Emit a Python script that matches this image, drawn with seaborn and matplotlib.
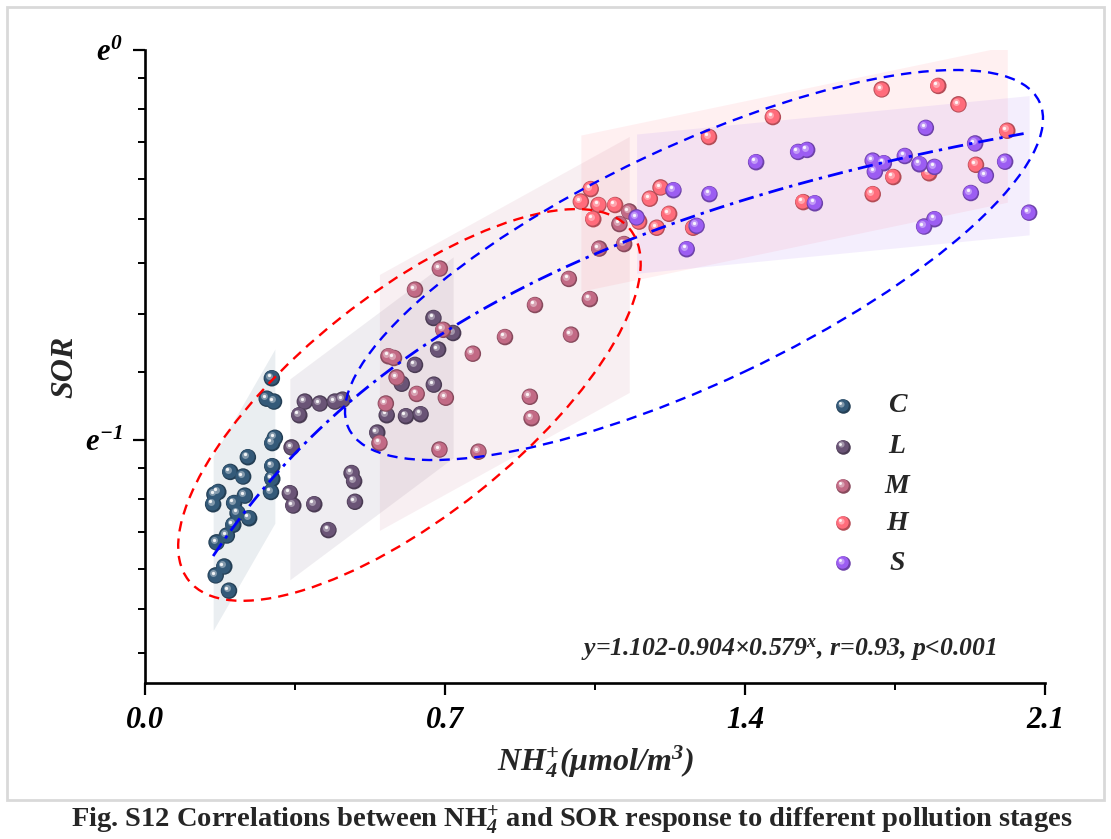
import numpy as np
import pandas as pd
import seaborn as sns
import matplotlib
matplotlib.use("Agg")
import matplotlib.pyplot as plt
from matplotlib.patches import Ellipse, Rectangle
from matplotlib.transforms import ScaledTranslation, offset_copy
from matplotlib.ticker import FixedLocator, FixedFormatter, NullFormatter
from matplotlib.colors import to_rgb

# ---------------- data (NH4+ in umol/m3, SOR) ----------------
C_x = [0.296, 0.284, 0.301, 0.303, 0.297, 0.240, 0.199, 0.229, 0.297, 0.297, 0.294, 0.171,
       0.162, 0.159, 0.233, 0.208, 0.216, 0.243, 0.206, 0.191, 0.167, 0.185, 0.165, 0.196]
C_sor = [0.431, 0.409, 0.406, 0.370, 0.365, 0.352, 0.339, 0.335, 0.344, 0.333, 0.322, 0.322,
         0.320, 0.312, 0.319, 0.313, 0.305, 0.301, 0.296, 0.288, 0.283, 0.266, 0.260, 0.250]

L_x = [0.673, 0.719, 0.684, 0.630, 0.599, 0.674, 0.564, 0.609, 0.643, 0.373, 0.408, 0.443,
       0.461, 0.360, 0.542, 0.342, 0.482, 0.488, 0.338, 0.346, 0.395, 0.490, 0.428]
L_sor = [0.503, 0.484, 0.464, 0.446, 0.425, 0.424, 0.392, 0.391, 0.393, 0.406, 0.404, 0.406,
         0.408, 0.392, 0.375, 0.361, 0.338, 0.331, 0.321, 0.311, 0.312, 0.314, 0.292]

M_x = [0.688, 0.630, 0.696, 0.568, 0.581, 0.587, 0.634, 0.702, 0.562, 0.547, 0.687, 0.778,
       0.765, 0.840, 0.910, 0.989, 0.994, 1.038, 0.898, 0.902, 1.060, 1.118, 1.107, 1.130]
M_sor = [0.571, 0.541, 0.488, 0.456, 0.454, 0.432, 0.414, 0.410, 0.404, 0.365, 0.359, 0.357,
         0.459, 0.479, 0.520, 0.556, 0.482, 0.528, 0.411, 0.389, 0.601, 0.608, 0.640, 0.661]

H_x = [1.040, 1.017, 1.058, 1.046, 1.097, 1.153, 1.203, 1.178, 1.223, 1.194, 1.279, 1.316,
       1.465, 1.536, 1.719, 1.851, 1.898, 2.012, 1.746, 1.698, 1.830, 1.939]
H_sor = [0.700, 0.678, 0.672, 0.648, 0.672, 0.644, 0.703, 0.683, 0.657, 0.634, 0.634, 0.800,
         0.842, 0.677, 0.904, 0.912, 0.870, 0.813, 0.722, 0.691, 0.729, 0.745]

S_x = [1.233, 1.317, 1.147, 1.287, 1.264, 1.426, 1.524, 1.545, 1.822, 1.698, 1.703, 1.724,
       1.773, 1.807, 1.842, 1.937, 2.007, 1.962, 1.927, 1.563, 1.842, 1.818, 2.063]
S_sor = [0.698, 0.691, 0.651, 0.637, 0.600, 0.750, 0.770, 0.774, 0.819, 0.753, 0.732, 0.748,
         0.762, 0.746, 0.741, 0.787, 0.751, 0.725, 0.693, 0.675, 0.648, 0.636, 0.659]

stages = ["C", "L", "M", "H", "S"]
xticks = [0.0, 0.7, 1.4, 2.1]
xtick_labels = ["0.0", "0.7", "1.4", "2.1"]

# fitted curve y = a - b * c**x
fit_a, fit_b, fit_c = 1.102, 0.904, 0.579
eq_text = "y=1.102-0.904\u00d70.579$^{x}$, r=0.93, p<0.001"
caption = "Fig. S12 Correlations between NH$_{\\mathrm{4}}^{\\mathrm{+}}$ and SOR response to different pollution stages"

# ---------------- styles ----------------
colors = {"C": "#345a79", "L": "#6a5476", "M": "#c26a85", "H": "#ff6c7b", "S": "#9c5df2"}
band_k = 2.3            # band half width in residual std units
ell_red = dict(x=0.617, y=0.4025, w=5.64, h=2.22, angle=38.5)   # widths in inches
ell_blue = dict(x=1.281, y=0.5762, w=7.64, h=2.36, angle=25.3)

sns.set_theme(style="ticks")
plt.rcParams.update({
    "font.family": ["Liberation Serif", "DejaVu Serif"],
    "font.weight": "bold",
    "font.style": "italic",
    "axes.labelweight": "bold",
    "mathtext.fontset": "custom",
    "mathtext.it": "Liberation Serif:italic:bold",
    "mathtext.rm": "Liberation Serif:bold",
    "mathtext.bf": "Liberation Serif:bold",
    "mathtext.default": "it",
    "axes.linewidth": 1.9,
    "xtick.major.width": 1.6, "ytick.major.width": 1.6,
    "xtick.minor.width": 1.4, "ytick.minor.width": 1.4,
    "xtick.major.size": 8.5, "ytick.major.size": 8.5,
    "xtick.minor.size": 5, "ytick.minor.size": 5,
    "xtick.color": "black", "ytick.color": "black",
    "axes.edgecolor": "black",
})

df = pd.concat([
    pd.DataFrame({"x": C_x, "SOR": C_sor, "stage": "C"}),
    pd.DataFrame({"x": L_x, "SOR": L_sor, "stage": "L"}),
    pd.DataFrame({"x": M_x, "SOR": M_sor, "stage": "M"}),
    pd.DataFrame({"x": H_x, "SOR": H_sor, "stage": "H"}),
    pd.DataFrame({"x": S_x, "SOR": S_sor, "stage": "S"}),
], ignore_index=True)

fig = plt.figure(figsize=(11.11, 8.39), dpi=100)
ax = fig.add_axes([145 / 1111, 1 - 683 / 839, 900 / 1111, 633 / 839])
ax.set_yscale("log", base=np.e)


def mix(c, other, f):
    c = np.array(to_rgb(c)); o = np.array(to_rgb(other))
    return tuple(c * (1 - f) + o * f)


def dpx(d):
    return (d * 0.72) ** 2


def spheres(x, y, color, d, z, base_tr, use_sns=False, data=None):
    if use_sns:
        sns.scatterplot(data=data, x="x", y="SOR", color=mix(color, "black", 0.3), s=dpx(d),
                        edgecolor="none", linewidth=0, legend=False, ax=ax, zorder=z)
    else:
        ax.scatter(x, y, color=mix(color, "black", 0.3), s=dpx(d), lw=0, zorder=z, transform=base_tr)
    ax.scatter(x, y, color=color, s=dpx(d * 0.86), lw=0, zorder=z + 0.1,
               transform=offset_copy(base_tr, fig=fig, x=-0.8, y=0.8, units="dots"))
    ax.scatter(x, y, color=mix(color, "white", 0.45), s=dpx(d * 0.42), lw=0, zorder=z + 0.2,
               alpha=0.85, transform=offset_copy(base_tr, fig=fig, x=-2.4, y=2.4, units="dots"))
    ax.scatter(x, y, color="white", s=dpx(d * 0.2), lw=0, zorder=z + 0.3, alpha=0.9,
               transform=offset_copy(base_tr, fig=fig, x=-2.8, y=2.8, units="dots"))


# bands (linear fit in ln space) and points
for i, st in enumerate(stages):
    sub = df[df.stage == st]
    xs = sub["x"].to_numpy(); ly = np.log(sub["SOR"].to_numpy())
    p = np.polyfit(xs, ly, 1)
    resid = ly - np.polyval(p, xs)
    half = band_k * resid.std(ddof=2)
    xx = np.array([xs.min(), xs.max()])
    yy = np.polyval(p, xx)
    ax.fill_between(xx, np.exp(yy - half), np.exp(yy + half), color=colors[st], alpha=0.1,
                    lw=0, zorder=1 + i * 0.01)

for i, st in enumerate(stages):
    sub = df[df.stage == st]
    spheres(sub["x"], sub["SOR"], colors[st], 16.5, 3 + i, ax.transData, use_sns=True, data=sub)

# overall fitted curve
xfit = np.linspace(df["x"].min(), df["x"].max(), 300)
ax.plot(xfit, fit_a - fit_b * fit_c ** xfit, color="#0000ff", lw=2.0,
        ls=(0, (5.5, 2.2, 1.2, 2.2)), zorder=10)

# ellipses
for e, col in ((ell_red, "#ff0000"), (ell_blue, "#0000ff")):
    tr = fig.dpi_scale_trans + ScaledTranslation(e["x"], e["y"], ax.transData)
    ax.add_patch(Ellipse((0, 0), e["w"], e["h"], angle=e["angle"], transform=tr, fill=False,
                         ec=col, lw=1.7, ls=(0, (4.4, 3.0)), zorder=11))

# axes
ax.set_xlim(0, 2.1)
ax.set_ylim(np.exp(-1.623), 1.0)
ax.xaxis.set_major_locator(FixedLocator(xticks))
ax.xaxis.set_major_formatter(FixedFormatter(xtick_labels))
ax.xaxis.set_minor_locator(FixedLocator([(a + b) / 2 for a, b in zip(xticks[:-1], xticks[1:])]))
ax.yaxis.set_major_locator(FixedLocator([np.exp(-1), np.exp(0)]))
ax.yaxis.set_major_formatter(FixedFormatter(["$e^{-1}$", "$e^{0}$"]))
minors = []
for n in (-2, -1):
    lo, hi = np.exp(n), np.exp(n + 1)
    minors += [lo + k * (hi - lo) / 9 for k in range(1, 9)]
ax.yaxis.set_minor_locator(FixedLocator(minors))
ax.yaxis.set_minor_formatter(NullFormatter())
ax.tick_params(axis="both", which="major", labelsize=22, direction="out")
ax.tick_params(axis="x", which="major", pad=8)
ax.tick_params(axis="y", which="major", pad=7)
for s in ("top", "right"):
    ax.spines[s].set_visible(False)
ax.set_facecolor("white")

ax.set_xlabel("NH$_{4}^{+}$(\u03bcmol/m$^{3}$)", fontsize=23, fontweight="bold", labelpad=6)
ax.set_ylabel("SOR", fontsize=23, fontweight="bold", labelpad=4)

# legend
leg_y = [0.4376, 0.3733, 0.3112, 0.2523, 0.1891]
for st, yy in zip(stages, leg_y):
    spheres([0.7756], [yy], colors[st], 14.5, 20, ax.transAxes)
    ax.text(0.8356, yy, st, transform=ax.transAxes, fontsize=20, ha="center", va="center", zorder=21)

ax.text(0.7156, 0.052, eq_text, transform=ax.transAxes, fontsize=18.5, ha="center", va="center")

# frame and caption
fig.add_artist(Rectangle((7 / 1111, 1 - 800 / 839), 1097 / 1111, 793 / 839, transform=fig.transFigure,
                         fill=False, ec="#d9d9d9", lw=2))
fig.text(572 / 1111, 1 - 820 / 839, caption, fontsize=20.5, ha="center", va="center", style="normal")

fig.savefig("out.png", dpi=100, facecolor="white")
